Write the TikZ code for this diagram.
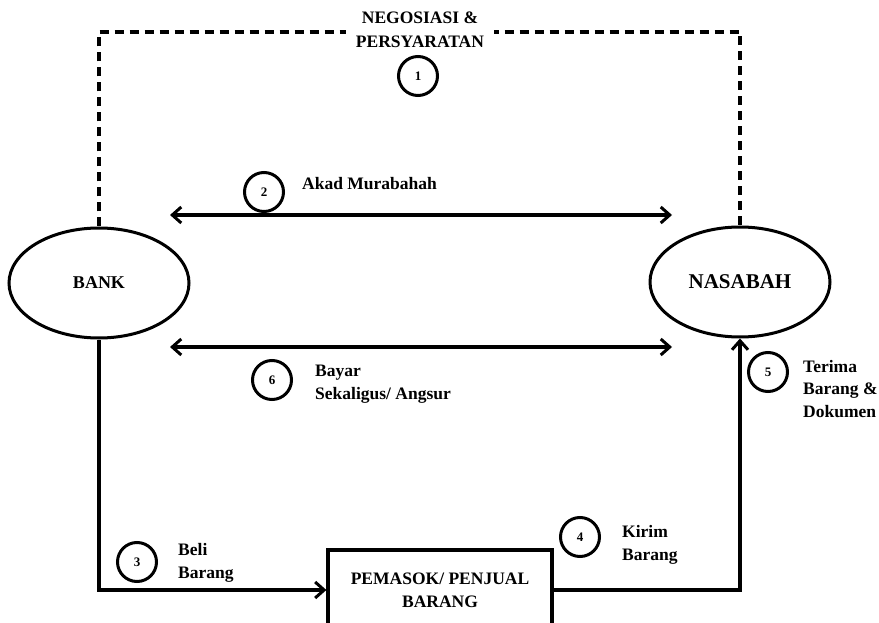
\documentclass[tikz,border=0pt]{standalone}
\usepackage{fontspec}
\setmainfont{Liberation Serif}
\usetikzlibrary{arrows.meta,shapes.geometric}
\tikzset{
  line/.style={line width=3.2pt, draw=black},
  tip/.style={},
  arr/.style={line, -{Straight Barb[length=9pt,width=16pt,line width=3pt]}},
  darr/.style={line, {Straight Barb[length=9pt,width=16pt,line width=3pt]}-{Straight Barb[length=9pt,width=16pt,line width=3pt]}},
  dashline/.style={line width=3.2pt, dash pattern=on 9pt off 6pt},
  party/.style={ellipse, line width=3pt, draw, minimum width=180pt, minimum height=110pt, inner sep=0pt},
  num/.style={circle, line width=3pt, draw, minimum size=39pt, inner sep=0pt, font=\fontsize{13}{15}\selectfont\bfseries},
  lab/.style={anchor=west, align=left, inner sep=0pt, font=\fontsize{17.5}{22.5}\selectfont\bfseries},
}
\begin{document}
\begin{tikzpicture}[x=1pt,y=-1pt]
\useasboundingbox (0,0) rectangle (879,623);
\clip (0,0) rectangle (879,623);
% parties
\node[party, font=\fontsize{18}{20}\selectfont\bfseries] (bank) at (99,283) {BANK};
\node[party, font=\fontsize{21}{24}\selectfont\bfseries] (nas) at (740,282) {NASABAH};
\node[draw, line width=3.2pt, minimum width=224pt, minimum height=80pt, align=center,
      font=\fontsize{17.5}{23}\selectfont\bfseries] (sup) at (440,590) {PEMASOK/ PENJUAL\\BARANG};
% dashed negotiation path
\coordinate (top) at (420,32);
\draw[dashline] (bank.north) -- (bank.north |- top) -| (nas.north);
\node[fill=white, inner xsep=10pt, inner ysep=1pt, align=center,
      font=\fontsize{17.5}{24}\selectfont\bfseries] (neg) at (420,30) {NEGOSIASI \&\\PERSYARATAN};
% double arrows
\coordinate (a2l) at (170,215);
\coordinate (a2r) at (672,215);
\coordinate (a6l) at (170,347);
\coordinate (a6r) at (672,347);
\draw[darr] (a2l) -- (a2r);
\draw[darr] (a6l) -- (a6r);
% goods flow
\draw[arr] (bank.south) |- (sup.west);
\draw[arr] (sup.east) -| (nas.south);
% numbers
\node[num] (n1) at (418,76) {1};
\node[num] (n2) at (264,192) {2};
\node[num] (n3) at (137,562) {3};
\node[num] (n4) at (580,537) {4};
\node[num] (n5) at (768,372) {5};
\node[num] (n6) at (272,380) {6};
% labels
\node[lab] (l2) at (302,184) {Akad Murabahah};
\node[lab] (l6) at (315,384) {Bayar\\Sekaligus/ Angsur};
\node[lab] (l5) at (803,389) {Terima\\Barang \&\\Dokumen};
\node[lab] (l3) at (178,563) {Beli\\Barang};
\node[lab] (l4) at (622,545) {Kirim\\Barang};
\end{tikzpicture}
\end{document}
